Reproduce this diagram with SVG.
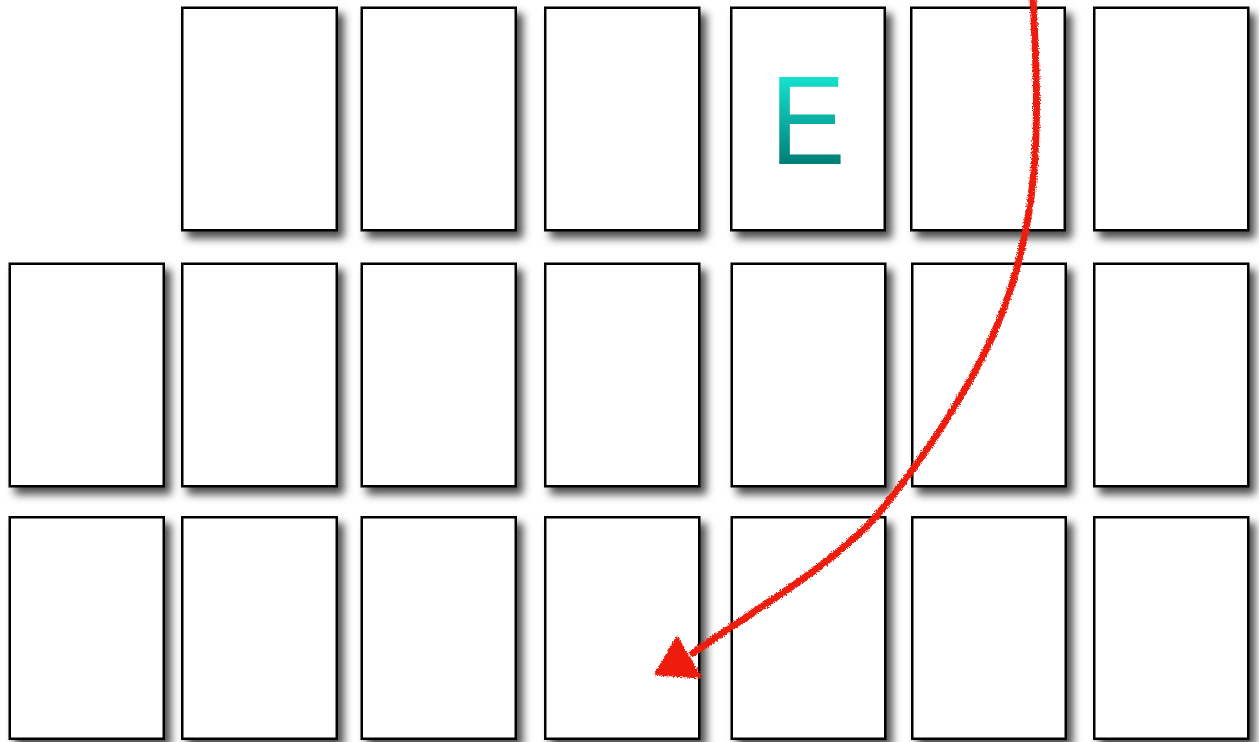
<svg xmlns="http://www.w3.org/2000/svg" width="1259" height="742" viewBox="0 0 1259 742">
  <defs>
    <filter id="shadow" x="-15%" y="-15%" width="140%" height="140%">
      <feDropShadow dx="6" dy="7" stdDeviation="4.5" flood-color="#000" flood-opacity="0.7"/>
    </filter>
    <filter id="rough" x="-5%" y="-5%" width="110%" height="110%">
      <feTurbulence type="fractalNoise" baseFrequency="0.8" numOctaves="2" seed="3" result="noise"/>
      <feDisplacementMap in="SourceGraphic" in2="noise" scale="4.5" xChannelSelector="R" yChannelSelector="G"/>
    </filter>
    <linearGradient id="egrad" gradientUnits="userSpaceOnUse" x1="0" y1="-91" x2="0" y2="0">
      <stop offset="0" stop-color="#17E6D3"/>
      <stop offset="1" stop-color="#007E77"/>
    </linearGradient>
  </defs>
  <style>
    .card { fill: #ffffff; stroke: #000000; stroke-width: 2.5; filter: url(#shadow); }
    .lbl { font-family: "Liberation Sans", Arial, sans-serif; font-size: 127px; fill: url(#egrad); }
    .arrow { fill: none; stroke: #EE1E0C; stroke-width: 7; stroke-linecap: round; }
    .head { fill: #EE1E0C; stroke: #EE1E0C; stroke-width: 3; stroke-linejoin: round; }
  </style>
  <rect width="1259" height="742" fill="#ffffff"/>

  <!-- Row 1 -->
  <g id="r1c2"><rect class="card" x="182.25" y="7.75" width="154.5" height="222.5"/></g>
  <g id="r1c3"><rect class="card" x="361.75" y="7.75" width="154" height="222.5"/></g>
  <g id="r1c4"><rect class="card" x="545.25" y="7.75" width="154" height="222.5"/></g>
  <g id="r1c5"><rect class="card" x="731.25" y="7.75" width="153.5" height="222.5"/>
    <text class="lbl" x="0" y="0" transform="translate(770,164) scale(0.89,1)">E</text></g>
  <g id="r1c6"><rect class="card" x="911.25" y="7.75" width="153.5" height="222.5"/></g>
  <g id="r1c7"><rect class="card" x="1094.25" y="7.75" width="154" height="222.5"/></g>

  <!-- Row 2 -->
  <g id="r2c1"><rect class="card" x="9.75" y="263.75" width="154" height="222.5"/></g>
  <g id="r2c2"><rect class="card" x="182.25" y="263.75" width="154.5" height="222.5"/></g>
  <g id="r2c3"><rect class="card" x="361.75" y="263.75" width="154" height="222.5"/></g>
  <g id="r2c4"><rect class="card" x="545.25" y="263.75" width="154" height="222.5"/></g>
  <g id="r2c5"><rect class="card" x="731.75" y="263.75" width="153.5" height="222.5"/></g>
  <g id="r2c6"><rect class="card" x="912.25" y="263.75" width="153.5" height="222.5"/></g>
  <g id="r2c7"><rect class="card" x="1094.25" y="263.75" width="154" height="222.5"/></g>

  <!-- Row 3 -->
  <g id="r3c1"><rect class="card" x="9.75" y="517.25" width="154" height="221.5"/></g>
  <g id="r3c2"><rect class="card" x="182.25" y="517.25" width="154.5" height="221.5"/></g>
  <g id="r3c3"><rect class="card" x="361.75" y="517.25" width="154" height="221.5"/></g>
  <g id="r3c4"><rect class="card" x="545.25" y="517.25" width="154" height="221.5"/></g>
  <g id="r3c5"><rect class="card" x="731.75" y="517.25" width="153.5" height="221.5"/></g>
  <g id="r3c6"><rect class="card" x="912.25" y="517.25" width="153.5" height="221.5"/></g>
  <g id="r3c7"><rect class="card" x="1094.25" y="517.25" width="154" height="221.5"/></g>

  <!-- Connector -->
  <g id="connectors" filter="url(#rough)">
    <path class="arrow" d="M1033,-2 C1039,120 1045,238 980,362 C950,419 914,471 873,520 C823,572 754,610 693,653"/>
    <polygon class="head" points="677,638 656,674 700,677"/>
  </g>
</svg>
